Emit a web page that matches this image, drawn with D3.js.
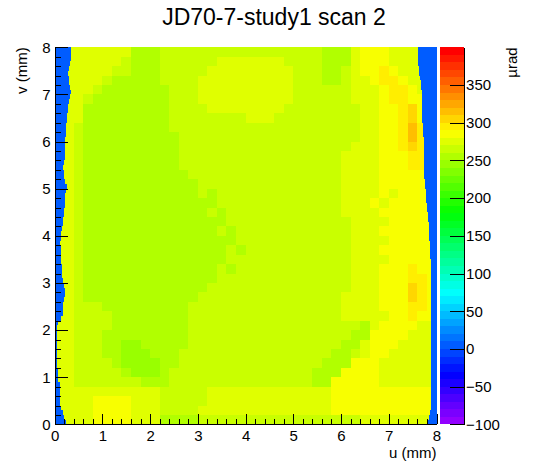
<!DOCTYPE html>
<html><head><meta charset="utf-8">
<script src="https://cdn.jsdelivr.net/npm/d3@7/dist/d3.min.js"></script>
<style>
body{margin:0;background:#fff}
svg{display:block}
text{font-family:"Liberation Sans",Arial,Helvetica,sans-serif;fill:#000}
</style>
</head><body>
<svg id="chart" width="546" height="472"></svg>
<script>
// ---------------- data ----------------
const chartTitle = "JD70-7-study1 scan 2";
const xTitle = "u (mm)";
const yTitle = "v (mm)";
const zTitle = "µrad";
const uRange = [0, 8];
const vRange = [0, 8];
const zRange = [-100, 400];
const xTicks = [0, 1, 2, 3, 4, 5, 6, 7, 8];
const yTicks = [0, 1, 2, 3, 4, 5, 6, 7, 8];
const zTicks = [-100, -50, 0, 50, 100, 150, 200, 250, 300, 350];
const binSize = 0.2;      // mm, size of one map cell
const edgeStep = 0.1;     // mm, row height of the edge profiles
const noDataValue = 5;    // value of empty (blue) bins, µrad

// map rows, top (v = 8) to bottom (v = 0); each row as [value, number of 0.2 mm cells]
const mapRows = [
  [[275,8],[255,3],[265,17],[255,3],[275,1],[285,3],[275,5]],
  [[275,7],[265,1],[255,3],[265,6],[275,7],[265,4],[255,3],[275,1],[285,3],[275,5]],
  [[275,6],[265,2],[255,3],[265,5],[275,9],[265,3],[255,2],[265,1],[275,1],[285,2],[295,1],[285,1],[275,4]],
  [[275,5],[265,1],[255,5],[265,4],[275,10],[265,3],[255,2],[265,1],[275,2],[285,1],[295,2],[285,1],[275,3]],
  [[275,4],[265,1],[255,7],[265,3],[275,10],[265,6],[275,3],[285,1],[295,2],[285,1],[275,2]],
  [[275,3],[265,1],[255,8],[265,3],[275,10],[265,6],[275,3],[285,1],[295,2],[285,3]],
  [[275,3],[255,9],[265,4],[275,8],[265,8],[275,2],[285,2],[295,1],[305,1],[285,2]],
  [[275,3],[255,9],[265,8],[275,3],[265,9],[275,2],[285,2],[295,1],[305,1],[285,2]],
  [[275,2],[265,1],[255,9],[265,20],[275,2],[285,2],[295,1],[315,1],[295,1],[285,1]],
  [[275,2],[265,1],[255,10],[265,19],[275,2],[285,2],[295,1],[315,1],[295,1],[285,1]],
  [[275,2],[265,1],[255,10],[265,18],[275,3],[285,2],[295,1],[305,1],[295,1],[285,1]],
  [[275,2],[265,1],[255,10],[265,17],[275,4],[285,3],[295,2],[285,1]],
  [[275,2],[265,1],[255,10],[265,17],[275,4],[285,3],[295,2],[285,1]],
  [[275,2],[265,1],[255,11],[265,16],[275,4],[285,6]],
  [[275,2],[265,1],[255,12],[265,15],[275,4],[285,6]],
  [[275,2],[265,1],[255,12],[265,1],[255,1],[265,13],[275,4],[285,1],[275,1],[285,4]],
  [[275,2],[265,1],[255,14],[265,13],[275,3],[285,1],[275,1],[285,5]],
  [[275,2],[265,1],[255,13],[265,1],[255,1],[265,12],[275,4],[285,6]],
  [[275,2],[265,1],[255,15],[265,13],[275,4],[285,5]],
  [[275,2],[265,1],[255,14],[265,1],[255,1],[265,12],[275,3],[285,6]],
  [[275,2],[265,1],[255,16],[265,12],[275,4],[285,5]],
  [[275,2],[265,1],[255,15],[265,1],[255,1],[265,11],[275,3],[285,6]],
  [[275,2],[265,1],[255,15],[265,13],[275,4],[285,5]],
  [[275,2],[265,1],[255,14],[265,1],[255,1],[265,12],[275,3],[285,3],[295,1],[285,2]],
  [[275,2],[265,1],[255,14],[265,14],[275,3],[285,3],[295,2],[285,1]],
  [[275,2],[265,1],[255,13],[265,15],[275,3],[285,3],[305,1],[295,1],[285,1]],
  [[275,2],[265,1],[255,12],[265,15],[275,4],[285,3],[305,1],[295,1],[285,1]],
  [[275,2],[265,3],[255,9],[265,16],[275,4],[285,3],[295,2],[285,1]],
  [[275,2],[265,4],[255,8],[265,16],[275,5],[285,2],[295,1],[285,2]],
  [[275,2],[265,4],[255,8],[265,18],[255,1],[275,1],[285,4],[275,2]],
  [[275,2],[265,3],[255,9],[265,17],[255,2],[285,4],[275,3]],
  [[275,2],[265,3],[255,2],[245,2],[255,5],[265,16],[255,2],[275,1],[285,3],[275,4]],
  [[275,2],[265,3],[255,2],[245,3],[255,3],[265,16],[255,2],[265,1],[275,1],[285,2],[275,5]],
  [[275,2],[265,4],[255,1],[245,4],[255,2],[265,15],[255,3],[285,3],[275,6]],
  [[275,2],[265,5],[255,1],[245,3],[255,1],[265,15],[255,3],[285,4],[275,6]],
  [[275,2],[265,7],[255,3],[265,15],[255,2],[285,5],[275,6]],
  [[275,11],[265,5],[275,13],[285,11]],
  [[275,4],[285,4],[275,3],[265,5],[275,13],[285,11]],
  [[275,4],[285,4],[275,3],[265,4],[275,14],[285,11]],
  [[275,4],[285,4],[275,3],[255,4],[265,17],[275,8]]
];

// u where measured data starts (left edge), per 0.1 mm row from v = 0 upward
const leftEdge = [
  0.24,0.20,0.17,0.14,0.12,0.12,0.11,0.12,0.11,0.08,
  0.07,0.07,0.06,0.05,0.05,0.05,0.06,0.05,0.06,0.06,
  0.06,0.07,0.13,0.18,0.17,0.17,0.20,0.22,0.22,0.19,
  0.17,0.16,0.15,0.15,0.14,0.14,0.14,0.13,0.12,0.14,
  0.14,0.16,0.17,0.18,0.20,0.20,0.21,0.22,0.22,0.24,
  0.26,0.21,0.20,0.19,0.18,0.20,0.21,0.21,0.21,0.22,
  0.22,0.23,0.23,0.24,0.25,0.27,0.28,0.29,0.31,0.33,
  0.35,0.33,0.31,0.30,0.28,0.30,0.32,0.34,0.35,0.35
];
// u where measured data ends (right edge), per 0.1 mm row from v = 0 upward
const rightEdge = [
  7.80,7.84,7.87,7.88,7.88,7.88,7.88,7.89,7.89,7.89,
  7.89,7.89,7.89,7.89,7.89,7.89,7.89,7.89,7.89,7.89,
  7.89,7.89,7.89,7.89,7.89,7.89,7.89,7.89,7.89,7.89,
  7.89,7.89,7.88,7.88,7.88,7.87,7.87,7.86,7.86,7.85,
  7.85,7.84,7.84,7.83,7.82,7.81,7.80,7.79,7.78,7.77,
  7.76,7.75,7.74,7.73,7.74,7.74,7.74,7.74,7.74,7.73,
  7.73,7.72,7.71,7.71,7.70,7.70,7.70,7.70,7.69,7.69,
  7.69,7.68,7.67,7.65,7.64,7.63,7.62,7.62,7.62,7.62
];

// ---------------- drawing ----------------
const svg = d3.select("#chart");
const FONT = "'Liberation Sans',Arial,Helvetica,sans-serif";
const x = d3.scaleLinear().domain(uRange).range([54.6, 436.5]);
const y = d3.scaleLinear().domain(vRange).range([424.4, 47.3]);
const z = d3.scaleLinear().domain(zRange).range([424.4, 47.3]);

// ROOT "pretty" palette: 50 colours, hue 280 -> 0
const nColors = 50;
function colorOf(val) {
  let i = Math.floor((val - zRange[0]) / (zRange[1] - zRange[0]) * nColors);
  i = Math.max(0, Math.min(nColors - 1, i));
  const hue = 280 - (i + 1) * (280 / nColors);
  return d3.hsl(hue, 1, 0.5).formatHex();
}

// expand run-length rows into cells
const cells = [];
mapRows.forEach((row, i) => {
  const vTop = vRange[1] - i * binSize;
  let j = 0;
  row.forEach(([val, n]) => {
    for (let k = 0; k < n; k++) {
      cells.push({u0: j * binSize, v0: vTop - binSize, val});
      j++;
    }
  });
});

const gMap = svg.append("g").attr("shape-rendering", "crispEdges");
gMap.selectAll("rect.cell").data(cells).join("rect")
  .attr("class", "cell")
  .attr("x", d => x(d.u0))
  .attr("y", d => y(d.v0 + binSize))
  .attr("width", d => x(d.u0 + binSize) - x(d.u0))
  .attr("height", d => y(d.v0) - y(d.v0 + binSize))
  .attr("fill", d => colorOf(d.val));

// empty (blue) margins
const edges = [];
leftEdge.forEach((e, k) => edges.push({a: uRange[0], b: e, v0: k * edgeStep}));
rightEdge.forEach((e, k) => edges.push({a: e, b: uRange[1], v0: k * edgeStep}));
gMap.selectAll("rect.edge").data(edges).join("rect")
  .attr("class", "edge")
  .attr("x", d => x(d.a))
  .attr("y", d => y(d.v0 + edgeStep))
  .attr("width", d => x(d.b) - x(d.a))
  .attr("height", d => y(d.v0) - y(d.v0 + edgeStep))
  .attr("fill", colorOf(noDataValue));

// palette
const pal = d3.range(nColors).map(i => zRange[0] + i * (zRange[1] - zRange[0]) / nColors);
const pw = (zRange[1] - zRange[0]) / nColors;
svg.append("g").attr("shape-rendering", "crispEdges")
  .selectAll("rect").data(pal).join("rect")
  .attr("x", 439.5).attr("width", 24.6)
  .attr("y", d => z(d + pw))
  .attr("height", d => z(d) - z(d + pw))
  .attr("fill", d => colorOf(d + pw / 2));

// axes
function styleAxis(g) {
  g.attr("font-size", 15).attr("font-family", FONT);
  g.selectAll("path,line").attr("stroke", "#000").attr("shape-rendering", "crispEdges");
  g.selectAll("text").attr("fill", "#000");
}
const xMinor = d3.range(0, 41).map(k => k * binSize).filter(v => !xTicks.includes(Math.round(v * 1000) / 1000));
const yMinor = xMinor;

svg.append("g").attr("transform", `translate(0,${y(vRange[0])})`)
  .call(d3.axisBottom(x).tickValues(xMinor).tickSizeInner(-5).tickSizeOuter(0).tickFormat(""))
  .call(styleAxis);
svg.append("g").attr("transform", `translate(0,${y(vRange[0])})`)
  .call(d3.axisBottom(x).tickValues(xTicks).tickSizeInner(-10.5).tickSizeOuter(0).tickPadding(6).tickFormat(d3.format("d")))
  .call(styleAxis);

svg.append("g").attr("transform", `translate(${x(uRange[0])},0)`)
  .call(d3.axisLeft(y).tickValues(yMinor).tickSizeInner(-6.5).tickSizeOuter(0).tickFormat(""))
  .call(styleAxis);
svg.append("g").attr("transform", `translate(${x(uRange[0])},0)`)
  .call(d3.axisLeft(y).tickValues(yTicks).tickSizeInner(-13).tickSizeOuter(0).tickPadding(4).tickFormat(d3.format("d")))
  .call(styleAxis);

svg.append("g").attr("transform", "translate(464.1,0)")
  .call(d3.axisRight(z).tickValues(zTicks).tickSizeInner(-14).tickSizeOuter(0).tickPadding(2).tickFormat(d3.format("d")))
  .call(styleAxis);

// titles
svg.append("text").attr("x", 274).attr("y", 25).attr("text-anchor", "middle")
  .attr("font-size", 23).text(chartTitle);
svg.append("text").attr("x", 436.5).attr("y", 458).attr("text-anchor", "end")
  .attr("font-size", 15).text(xTitle);
svg.append("text").attr("transform", "translate(27,47.3) rotate(-90)").attr("text-anchor", "end")
  .attr("font-size", 15).text(yTitle);
svg.append("text").attr("transform", "translate(517,47.3) rotate(-90)").attr("text-anchor", "end")
  .attr("font-size", 15).text(zTitle);
</script>
</body></html>
